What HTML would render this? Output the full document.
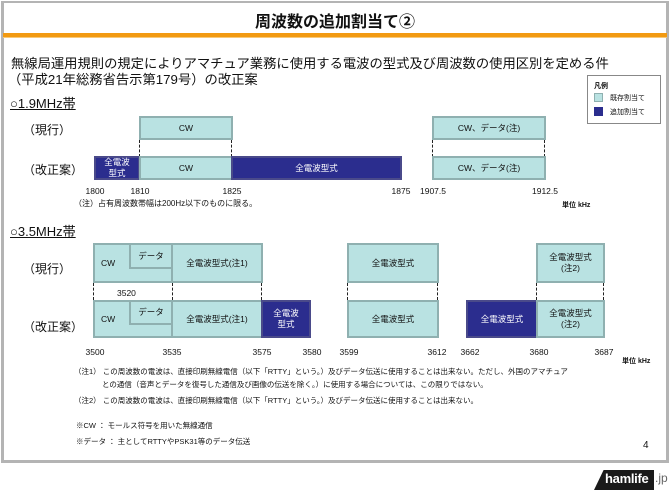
<!DOCTYPE html>
<html><head><meta charset="utf-8"><style>
*{margin:0;padding:0;box-sizing:border-box}
body{width:670px;height:490px;background:#fff;position:relative;overflow:hidden;font-family:"Liberation Sans","Noto Sans CJK JP",sans-serif;color:#111}
.a{position:absolute;white-space:nowrap}
.b{position:absolute;background:#b9e2e2;border:2px solid #8fb0b0;display:flex;align-items:center;justify-content:center;font-size:8.5px;text-align:center;line-height:1.25}
.n{background:#2b2d8e;border-color:#4a4a8a;color:#fff}
.d{position:absolute;border-left:1.5px dashed #222;width:0}
.f{position:absolute;font-size:8.5px;transform:translateX(-50%)}
</style></head><body>
<div class="a" style="left:1px;top:1px;width:668px;height:462px;border:3px solid #b4b4b4;border-top-width:2px"></div>
<div class="a" style="left:0;width:670px;top:8px;text-align:center;font-size:16px;font-weight:bold">周波数の追加割当て②</div>
<div class="a" style="left:3px;width:664px;top:33px;height:4px;background:#f29a12"></div>
<div class="a" style="left:3px;width:664px;top:37px;height:1px;background:#f7c97a"></div>
<div class="a" style="left:11px;top:53px;font-size:13.3px">無線局運用規則の規定によりアマチュア業務に使用する電波の型式及び周波数の使用区別を定める件</div>
<div class="a" style="left:8px;top:69px;font-size:13.3px">（平成21年総務省告示第179号）の改正案</div>
<div class="a" style="left:10px;top:93px;font-size:13px;text-decoration:underline">○1.9MHz帯</div>
<div class="a" style="left:587px;top:75px;width:74px;height:49px;border:1px solid #888;background:#fff"></div>
<div class="a" style="left:594px;top:81px;font-size:7px;font-weight:bold">凡例</div>
<div class="a" style="left:594px;top:93px;width:9px;height:9px;background:#b9e2e2;border:1px solid #8fb0b0"></div>
<div class="a" style="left:610px;top:93px;font-size:7px">既存割当て</div>
<div class="a" style="left:594px;top:107px;width:9px;height:9px;background:#2b2d8e"></div>
<div class="a" style="left:610px;top:107px;font-size:7px">追加割当て</div>

<div class="a" style="left:23px;top:121px;font-size:12px">（現行）</div>
<div class="a" style="left:23px;top:161px;font-size:12px">（改正案）</div>
<div class="b" style="left:139px;top:116px;width:94px;height:24px">CW</div>
<div class="b" style="left:432px;top:116px;width:114px;height:24px">CW、データ(注)</div>
<div class="d" style="left:139px;top:140px;height:17px"></div>
<div class="d" style="left:231px;top:140px;height:17px"></div>
<div class="d" style="left:432px;top:140px;height:17px"></div>
<div class="d" style="left:544px;top:140px;height:17px"></div>
<div class="b n" style="left:94px;top:156px;width:46px;height:24px">全電波<br>型式</div>
<div class="b" style="left:139px;top:156px;width:94px;height:24px">CW</div>
<div class="b n" style="left:231px;top:156px;width:171px;height:24px">全電波型式</div>
<div class="b" style="left:432px;top:156px;width:114px;height:24px">CW、データ(注)</div>
<div class="f" style="left:95px;top:186px">1800</div>
<div class="f" style="left:140px;top:186px">1810</div>
<div class="f" style="left:232px;top:186px">1825</div>
<div class="f" style="left:401px;top:186px">1875</div>
<div class="f" style="left:433px;top:186px">1907.5</div>
<div class="f" style="left:545px;top:186px">1912.5</div>
<div class="a" style="left:74px;top:198px;font-size:8px">（注）占有周波数帯幅は200Hz以下のものに限る。</div>
<div class="a" style="left:562px;top:200px;font-size:7px;font-weight:bold">単位 kHz</div>

<div class="a" style="left:10px;top:221px;font-size:13px;text-decoration:underline">○3.5MHz帯</div>
<div class="a" style="left:23px;top:260px;font-size:12px">（現行）</div>
<div class="a" style="left:23px;top:318px;font-size:12px">（改正案）</div>
<div class="b" style="left:93px;top:243px;width:80px;height:40px;justify-content:flex-start;padding-left:6px">CW</div>
<div class="b" style="left:129px;top:243px;width:44px;height:26px">データ</div>
<div class="b" style="left:171px;top:243px;width:92px;height:40px">全電波型式(注1)</div>
<div class="b" style="left:347px;top:243px;width:92px;height:40px">全電波型式</div>
<div class="b" style="left:536px;top:243px;width:69px;height:40px">全電波型式<br>(注2)</div>
<div class="d" style="left:93px;top:283px;height:17px"></div>
<div class="d" style="left:172px;top:283px;height:17px"></div>
<div class="d" style="left:261px;top:283px;height:17px"></div>
<div class="d" style="left:347px;top:283px;height:17px"></div>
<div class="d" style="left:437px;top:283px;height:17px"></div>
<div class="d" style="left:536px;top:283px;height:17px"></div>
<div class="d" style="left:603px;top:283px;height:17px"></div>
<div class="a" style="left:117px;top:288px;font-size:8.5px">3520</div>
<div class="b" style="left:93px;top:300px;width:80px;height:38px;justify-content:flex-start;padding-left:6px">CW</div>
<div class="b" style="left:129px;top:300px;width:44px;height:25px">データ</div>
<div class="b" style="left:171px;top:300px;width:92px;height:38px">全電波型式(注1)</div>
<div class="b n" style="left:261px;top:300px;width:50px;height:38px">全電波<br>型式</div>
<div class="b" style="left:347px;top:300px;width:92px;height:38px">全電波型式</div>
<div class="b n" style="left:466px;top:300px;width:72px;height:38px">全電波型式</div>
<div class="b" style="left:536px;top:300px;width:69px;height:38px">全電波型式<br>(注2)</div>
<div class="f" style="left:95px;top:347px">3500</div>
<div class="f" style="left:172px;top:347px">3535</div>
<div class="f" style="left:262px;top:347px">3575</div>
<div class="f" style="left:312px;top:347px">3580</div>
<div class="f" style="left:349px;top:347px">3599</div>
<div class="f" style="left:437px;top:347px">3612</div>
<div class="f" style="left:470px;top:347px">3662</div>
<div class="f" style="left:539px;top:347px">3680</div>
<div class="f" style="left:604px;top:347px">3687</div>
<div class="a" style="left:622px;top:356px;font-size:7px;font-weight:bold">単位 kHz</div>
<div class="a" style="left:74px;top:366px;font-size:7.5px">（注1） この周波数の電波は、直接印刷無線電信（以下「RTTY」という。）及びデータ伝送に使用することは出来ない。ただし、外国のアマチュア</div>
<div class="a" style="left:102px;top:379px;font-size:7.5px">との通信（音声とデータを復号した通信及び画像の伝送を除く。）に使用する場合については、この限りではない。</div>
<div class="a" style="left:74px;top:395px;font-size:7.5px">（注2） この周波数の電波は、直接印刷無線電信（以下「RTTY」という。）及びデータ伝送に使用することは出来ない。</div>
<div class="a" style="left:76px;top:420px;font-size:7.5px">※CW ： モールス符号を用いた無線通信</div>
<div class="a" style="left:76px;top:436px;font-size:7.5px">※データ ： 主としてRTTYやPSK31等のデータ伝送</div>
<div class="a" style="left:643px;top:440px;font-size:10px">4</div>
<div class="a" style="left:594px;top:470px;width:60px;height:20px;background:#1a1a1a;clip-path:polygon(16% 0,100% 0,100% 100%,0 100%)"></div>
<div class="a" style="left:605px;top:471px;font-size:13px;font-weight:bold;color:#fff;letter-spacing:-0.3px">hamlife</div>
<div class="a" style="left:655px;top:471px;font-size:12px;color:#666">.jp</div>
</body></html>
